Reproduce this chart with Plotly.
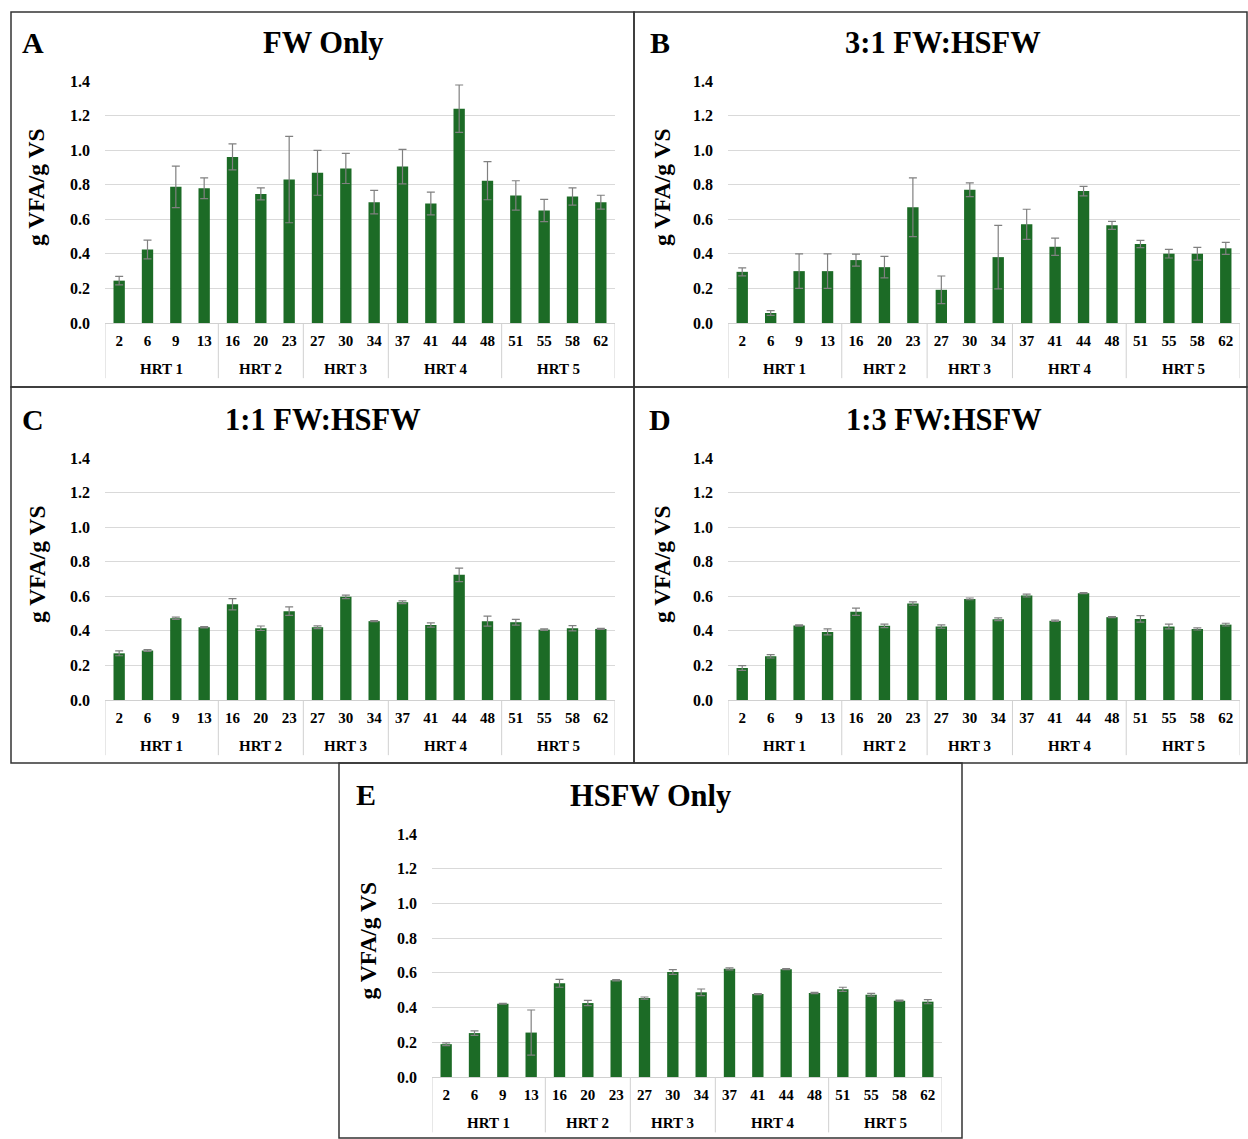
import plotly.graph_objects as go

days = ["2", "6", "9", "13", "16", "20", "23", "27", "30", "34", "37", "41", "44", "48", "51", "55", "58", "62"]
hrt = ["HRT 1"] * 4 + ["HRT 2"] * 3 + ["HRT 3"] * 3 + ["HRT 4"] * 4 + ["HRT 5"] * 4

fw_only = [0.245, 0.425, 0.788, 0.78, 0.961, 0.747, 0.83, 0.869, 0.894, 0.699, 0.905, 0.691, 1.24, 0.823, 0.738, 0.651, 0.732, 0.699]
fw_only_err = [0.025, 0.054, 0.12, 0.06, 0.075, 0.035, 0.25, 0.13, 0.087, 0.068, 0.10, 0.066, 0.137, 0.11, 0.085, 0.064, 0.05, 0.04]

fw_hsfw_31 = [0.296, 0.058, 0.30, 0.30, 0.364, 0.323, 0.67, 0.192, 0.771, 0.381, 0.571, 0.441, 0.763, 0.565, 0.457, 0.401, 0.401, 0.432]
fw_hsfw_31_err = [0.023, 0.014, 0.10, 0.10, 0.035, 0.062, 0.17, 0.08, 0.04, 0.184, 0.087, 0.05, 0.027, 0.023, 0.021, 0.025, 0.037, 0.035]

fw_hsfw_11 = [0.27, 0.286, 0.473, 0.421, 0.554, 0.415, 0.514, 0.421, 0.597, 0.456, 0.566, 0.434, 0.724, 0.456, 0.45, 0.407, 0.415, 0.411]
fw_hsfw_11_err = [0.014, 0.005, 0.006, 0.004, 0.033, 0.013, 0.025, 0.008, 0.01, 0.003, 0.008, 0.012, 0.039, 0.029, 0.017, 0.004, 0.015, 0.003]

fw_hsfw_13 = [0.185, 0.253, 0.431, 0.394, 0.51, 0.429, 0.558, 0.425, 0.585, 0.467, 0.604, 0.458, 0.618, 0.479, 0.469, 0.425, 0.411, 0.436]
fw_hsfw_13_err = [0.014, 0.01, 0.004, 0.017, 0.021, 0.01, 0.01, 0.01, 0.005, 0.008, 0.008, 0.004, 0.003, 0.003, 0.019, 0.014, 0.006, 0.008]

hsfw_only = [0.189, 0.253, 0.422, 0.256, 0.54, 0.426, 0.557, 0.455, 0.605, 0.488, 0.623, 0.478, 0.621, 0.484, 0.505, 0.474, 0.44, 0.434]
hsfw_only_err = [0.008, 0.013, 0.003, 0.13, 0.023, 0.015, 0.004, 0.006, 0.014, 0.019, 0.006, 0.003, 0.003, 0.004, 0.012, 0.008, 0.003, 0.012]

titles = ["FW Only", "3:1 FW:HSFW", "1:1 FW:HSFW", "1:3 FW:HSFW", "HSFW Only"]
letters = ["A", "B", "C", "D", "E"]
y_tick_vals = [0.0, 0.2, 0.4, 0.6, 0.8, 1.0, 1.2, 1.4]
y_tick_text = ["0.0", "0.2", "0.4", "0.6", "0.8", "1.0", "1.2", "1.4"]

series = [(fw_only, fw_only_err), (fw_hsfw_31, fw_hsfw_31_err), (fw_hsfw_11, fw_hsfw_11_err),
          (fw_hsfw_13, fw_hsfw_13_err), (hsfw_only, hsfw_only_err)]

W, H = 1248, 1139
FONT = "Liberation Serif"
GREEN = "#1c6b26"
DIV = "#d0d0d0"

# plot areas in pixels: (left, right, top, bottom)
plot_px = [(105, 615, 81, 323), (728, 1240, 81, 323), (105, 615, 458, 700),
           (728, 1240, 458, 700), (432, 942, 834, 1077)]
# panel boxes in pixels: (left, right, top, bottom)
box_px = [(11, 634, 12, 387), (634, 1247, 12, 387), (11, 634, 387, 763),
          (634, 1247, 387, 763), (339, 962, 763, 1138)]
# per-panel text offsets (px): title x shift, letter x offset, y-title x offset
title_dx = [-37, -41, -37, -40, -37]
letter_dx = [22, 26, 22, 26, 27]
ytitle_dx = [25, 28, 26, 28, 28]

def px(x):
    return x / W

def py(y):
    return 1 - y / H

# group structure derived from hrt labels
groups = []
for idx, g in enumerate(hrt):
    if not groups or groups[-1][0] != g:
        groups.append([g, idx, idx])
    else:
        groups[-1][2] = idx

fig = go.Figure()
layout = dict(
    template="none",
    width=W, height=H, margin=dict(l=0, r=0, t=0, b=0, pad=0, autoexpand=False),
    plot_bgcolor="white", paper_bgcolor="white", showlegend=False,
    font=dict(family=FONT, color="black"),
)
annotations = []
shapes = []

for i, ((vals, errs), title, letter, (l, r, t, b), (bl, br, bt, bb)) in enumerate(
        zip(series, titles, letters, plot_px, box_px)):
    n = "" if i == 0 else str(i + 1)
    xa, ya = "x" + n, "y" + n
    fig.add_trace(go.Bar(
        x=days, y=vals, marker=dict(color=GREEN, line=dict(width=0)),
        width=0.4,
        error_y=dict(type="data", array=errs, visible=True, color="#808080", thickness=1.2, width=4),
        xaxis=xa, yaxis=ya,
    ))
    layout["xaxis" + n] = dict(
        domain=[px(l), px(r)], anchor=ya, type="category",
        range=[-0.5, len(days) - 0.5], automargin=False,
        showline=True, linecolor=DIV, linewidth=1,
        tickfont=dict(family=FONT, size=15, color="black", weight="bold"),
        ticklabelstandoff=4,
        showgrid=False, zeroline=False, ticks="", fixedrange=True,
    )
    layout["yaxis" + n] = dict(
        domain=[py(b), py(t)], anchor=xa, range=[0, 1.4], automargin=False,
        tickvals=y_tick_vals, ticktext=y_tick_text,
        showgrid=True, gridcolor="#d9d9d9", gridwidth=1,
        zeroline=False, showline=False, ticks="",
        ticklabelstandoff=14,
        tickfont=dict(family=FONT, size=16, color="black", weight="bold"),
    )
    # group labels and dividers
    bounds = [groups[0][1] - 0.5] + [g[2] + 0.5 for g in groups]
    for xb in bounds:
        shapes.append(dict(
            type="line", xref=xa, yref=ya + " domain", x0=xb, x1=xb, y0=0, y1=-0.228,
            line=dict(color=DIV, width=1),
        ))
    for g, s, e in groups:
        annotations.append(dict(
            x=(s + e) / 2, y=0, xref=xa, yref=ya + " domain", yshift=-46,
            text="<b>" + g + "</b>", showarrow=False,
            font=dict(family=FONT, size=15, color="black"), xanchor="center", yanchor="middle",
        ))
    annotations.append(dict(
        x=px((l + r) / 2 + title_dx[i]), y=py(t - 38), xref="paper", yref="paper",
        text="<b>" + title + "</b>", showarrow=False,
        font=dict(family=FONT, size=30.5, color="black"), xanchor="center", yanchor="middle",
    ))
    annotations.append(dict(
        x=px(bl + letter_dx[i]), y=py(t - 39), xref="paper", yref="paper",
        text="<b>" + letter + "</b>", showarrow=False,
        font=dict(family=FONT, size=30, color="black"), xanchor="center", yanchor="middle",
    ))
    annotations.append(dict(
        x=px(bl + ytitle_dx[i]), y=py((t + b) / 2 - 15), xref="paper", yref="paper",
        text="<b>g VFA/g VS</b>", showarrow=False, textangle=-90,
        font=dict(family=FONT, size=23.5, color="black"), xanchor="center", yanchor="middle",
    ))
    shapes.append(dict(
        type="rect", xref="paper", yref="paper",
        x0=px(bl), x1=px(br), y0=py(bb), y1=py(bt),
        line=dict(color="#333333", width=1.5), fillcolor="rgba(0,0,0,0)",
    ))

layout["annotations"] = annotations
layout["shapes"] = shapes
fig.update_layout(**layout)

page_fix = (
    "document.documentElement.style.margin='0';"
    "document.documentElement.style.padding='0';"
    "document.documentElement.style.overflow='hidden';"
    "document.body.style.margin='0';"
    "document.body.style.padding='0';"
    "document.body.style.overflow='hidden';"
    "var gd=document.getElementsByClassName('plotly-graph-div')[0];"
    "gd.style.position='absolute';gd.style.top='0px';gd.style.left='0px';"
)
fig.write_html("out.html", post_script=page_fix, config={"displayModeBar": False})
